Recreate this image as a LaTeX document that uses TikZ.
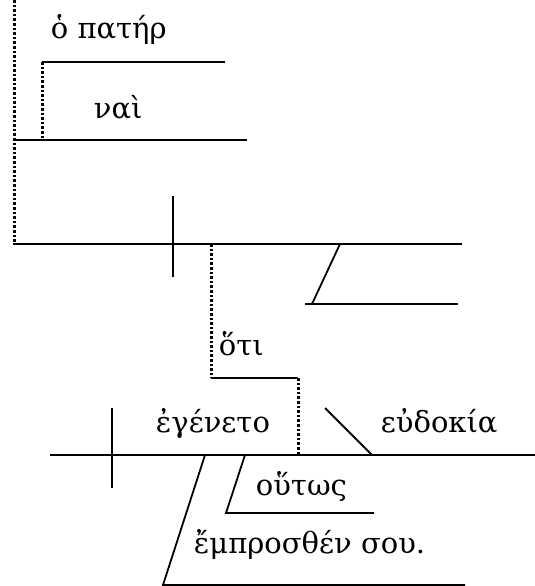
\documentclass[tikz,border=0pt]{standalone}
\usepackage{fontspec}
\setmainfont{DejaVu Serif}
\usepackage{tikz}

\begin{document}
\begin{tikzpicture}[x=1pt,y=-1pt,line width=1.8pt,
        word/.style={anchor=base west,inner sep=0pt,font=\fontsize{29}{32}\selectfont},
        dotline/.style={line width=3pt,dash pattern=on 2.6pt off 2pt}]

        \useasboundingbox (0,0) rectangle (535,586);

        % upper clause
        \coordinate (s0) at (14,0);
        \coordinate (s1) at (14,244);
        \coordinate (p1) at (42,62);
        \coordinate (p2) at (225,62);
        \coordinate (p3) at (42,140);
        \coordinate (n1) at (14,140);
        \coordinate (n2) at (247,140);
        \coordinate (m1) at (13,244);
        \coordinate (m2) at (462,244);
        \coordinate (d1) at (173,196);
        \coordinate (d2) at (173,277);
        \coordinate (o1) at (211,244);
        \coordinate (o2) at (211,378);
        \coordinate (e1) at (340,244);
        \coordinate (e2) at (312,304);
        \coordinate (e3) at (305,304);
        \coordinate (e4) at (458,304);

        \node[word] at (50,38) (pater) {ὁ πατήρ};
        \node[word] at (93,118) (nai) {ναὶ};

        % lower clause
        \coordinate (h1) at (298,378);
        \coordinate (h2) at (298,455);
        \coordinate (k1) at (50,455);
        \coordinate (k2) at (535,455);
        \coordinate (v1) at (112,408);
        \coordinate (v2) at (112,488);
        \coordinate (b1) at (325,408);
        \coordinate (b2) at (372,455);
        \coordinate (u1) at (245,455);
        \coordinate (u2) at (226,513);
        \coordinate (u3) at (374,513);
        \coordinate (w1) at (205,455);
        \coordinate (w2) at (163,585);
        \coordinate (w3) at (465,585);

        \node[word] at (218,355) (hoti) {ὅτι};
        \node[word] at (155,432) (egeneto) {ἐγένετο};
        \node[word] at (380,432) (eudokia) {εὐδοκία};
        \node[word] at (255,495) (houtos) {οὕτως};
        \node[word] at (193,553) (emprosthen) {ἔμπροσθέν σου.};

        \draw [dotline] (s0) -- (s1);
        \draw (p1) -- (p2);
        \draw [dotline] (p1) -- (p3);
        \draw (n1) -- (n2);
        \draw (m1) -- (m2);
        \draw (d1) -- (d2);
        \draw [dotline] (o1) -- (o2);
        \draw (e1) -- (e2);
        \draw (e3) -- (e4);

        \draw (o2) -- (h1);
        \draw [dotline] (h1) -- (h2);
        \draw (k1) -- (k2);
        \draw (v1) -- (v2);
        \draw (b1) -- (b2);
        \draw (u1) -- (u2) -- (u3);
        \draw (w1) -- (w2) -- (w3);

    \end{tikzpicture}
\end{document}
